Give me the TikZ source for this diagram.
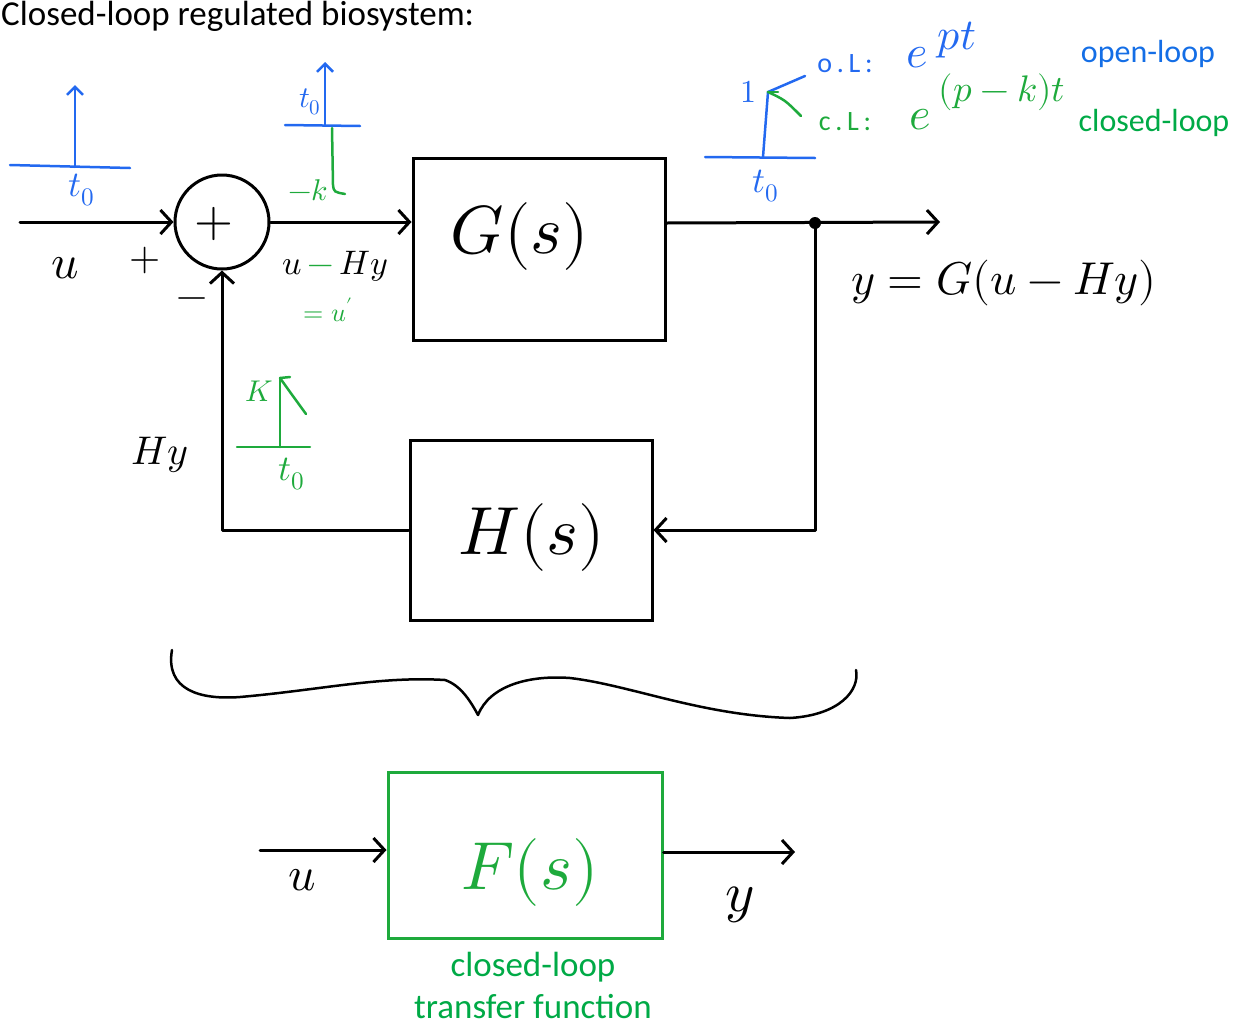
\documentclass[tikz,border=0pt]{standalone}
\usepackage{fontspec}
\usepackage{unicode-math}
\setmainfont{Carlito}
\setmathfont{Latin Modern Math}
\usetikzlibrary{arrows.meta,calc}
\definecolor{inkblue}{RGB}{35,105,240}
\definecolor{inkgreen}{RGB}{30,170,60}
\definecolor{txtblue}{RGB}{20,110,230}
\definecolor{txtgreen}{RGB}{0,170,70}
\tikzset{
  wire/.style={line width=3pt,line cap=round,line join=round},
  barb/.style={wire,-{Straight Barb[length=11pt,width=24pt,line width=3pt]}},
  blk/.style={draw,line width=3pt,inner sep=0pt},
  bline/.style={inkblue,line width=2.5pt,line cap=round},
  gline/.style={inkgreen,line width=2.5pt,line cap=round},
  bbarb/.style={bline,-{Straight Barb[length=8pt,width=16pt,line width=2.5pt]}},
  hw/.style={inner sep=0pt,font=\fontsize{40}{44}\selectfont},
  hwb/.style={hw,text=inkblue,font=\fontsize{32}{36}\selectfont},
  hwg/.style={hw,text=inkgreen,font=\fontsize{32}{36}\selectfont},
  print/.style={inner sep=0pt,font=\fontsize{32}{36}\selectfont},
}
\begin{document}
\begin{tikzpicture}[x=1pt,y=-1pt]
\useasboundingbox (0,0) rectangle (1238,1028);
% title
\node[print,anchor=base west,font=\fontsize{35}{38}\selectfont] (title) at (1,25) {Closed-loop regulated biosystem:};

% blocks
\node[blk,minimum width=252pt,minimum height=182pt] (G) at (539,249) {};
\node[hw,font=\fontsize{68}{74}\selectfont] (Gl) at (520,236) {$G(s)$};
\node[blk,minimum width=242pt,minimum height=180pt] (H) at (531,530) {};
\node[hw,font=\fontsize{68}{76}\selectfont] (Hl) at (532,537) {$H(s)$};
\node[circle,draw,line width=3pt,minimum size=94pt,inner sep=0pt] (sum) at (222,222) {};
\node[hw,font=\fontsize{50}{54}\selectfont] (plusin) at (214,224) {$+$};

% input
\coordinate (in) at (20,222);
\draw[barb] (in) -- (sum.west);
\node[hw,font=\fontsize{48}{52}\selectfont] (ulab) at (65,268) {$u$};
\node[hw] (plus) at (145,260) {$+$};
\node[hw] (minus) at (192,303) {$-$};

% forward
\draw[barb] (sum.east) -- (sum.east -| G.west);
\node[hw,font=\fontsize{34}{40}\selectfont,anchor=base west] (err) at (282,274) {$u\,{\color{inkgreen}-}\,Hy$};
\node[hwg,font=\fontsize{26}{30}\selectfont] (uprime) at (328,310) {$=u'$};

% output
\coordinate (out) at (940,222);
\coordinate (dot) at (815,223);
\draw[barb] (G.east |- dot) -- (out);
\fill (dot) circle (6pt);
\node[hw,font=\fontsize{46}{52}\selectfont] (yeq) at (1004,283) {$y=G(u-Hy)$};

% feedback
\draw[barb] (dot) |- (H.east);
\draw[barb] (H.west) -| (sum.south);
\node[hw] (Hy) at (160,455) {$Hy$};

% blue step at input
\coordinate (s1a) at (10,165);
\coordinate (s1b) at (130,168);
\coordinate (s1c) at (75,167);
\coordinate (s1d) at (75,85);
\draw[bline] (s1a) -- (s1b);
\draw[bbarb] (s1c) -- (s1d);
\node[hwb,font=\fontsize{36}{40}\selectfont] (t1) at (82,190) {$t_0$};

% blue step + green response near error
\coordinate (s2a) at (285,125);
\coordinate (s2b) at (360,126);
\coordinate (s2c) at (325,125);
\coordinate (s2d) at (325,62);
\draw[bline] (s2a) -- (s2b);
\draw[bbarb] (s2c) -- (s2d);
\node[hwb,font=\fontsize{30}{32}\selectfont] (t2) at (310,102) {$t_0$};
\coordinate (g2a) at (332,128);
\coordinate (g2b) at (345,194);
\draw[gline] (g2a) -- (333,185) .. controls (334,192) .. (g2b);
\node[hwg,font=\fontsize{30}{32}\selectfont] (mk) at (308,190) {$-k$};

% green step near feedback
\coordinate (s3a) at (237,447);
\coordinate (s3b) at (310,447);
\coordinate (s3c) at (280,447);
\coordinate (s3d) at (280,378);
\coordinate (s3e) at (306,414);
\draw[gline] (s3a) -- (s3b);
\draw[gline] (s3c) -- (s3d);
\draw[gline] (s3d) -- (290,377);
\draw[gline] (s3d) .. controls (290,392) .. (s3e);
\node[hwg,font=\fontsize{30}{32}\selectfont] (K) at (259,391) {$K$};
\node[hwg,font=\fontsize{36}{40}\selectfont] (t3) at (292,474) {$t_0$};

% top-right responses
\coordinate (s4a) at (705,157);
\coordinate (s4b) at (815,158);
\coordinate (s4c) at (763,157);
\coordinate (s4d) at (768,92);
\coordinate (s4e) at (805,76);
\coordinate (s4f) at (801,116);
\draw[bline] (s4a) -- (s4b);
\draw[bline] (s4c) -- (s4d) -- (s4e);
\draw[gline] (s4d) .. controls (785,100) .. (s4f);
\draw[gline] (s4d) -- (778,92);
\node[hwb] (one) at (748,92) {$1$};
\node[hwb,font=\fontsize{36}{40}\selectfont] (t4) at (766,186) {$t_0$};
\node[hwb,font=\fontsize{28}{30}\selectfont] (ol) at (845,64) {o\,.\,L\,:};
\node[hwb,font=\fontsize{46}{48}\selectfont] (e1) at (917,58) {$e$};
\node[hwb,font=\fontsize{44}{48}\selectfont] (pt) at (957,40) {$pt$};
\node[hwg,font=\fontsize{28}{30}\selectfont] (cl) at (845,122) {c\,.\,L\,:};
\node[hwg,font=\fontsize{46}{48}\selectfont] (e2) at (920,120) {$e$};
\node[hwg,font=\fontsize{37}{40}\selectfont] (pk) at (1002,92) {$(p-k)t$};
\node[print,text=txtblue] (olt) at (1148,54) {open-loop};
\node[print,text=txtgreen] (clt) at (1154,123) {closed-loop};

% brace
\coordinate (br1) at (172,650);
\coordinate (brt) at (478,715);
\coordinate (br2) at (856,670);
\draw[wire,line width=2.5pt] (br1) .. controls (165,690) and (200,700) .. (240,697)
  .. controls (320,690) and (380,676) .. (445,680)
  .. controls (460,685) and (470,700) .. (brt)
  .. controls (490,685) and (530,675) .. (570,678)
  .. controls (630,685) and (700,715) .. (790,718)
  .. controls (840,715) and (860,690) .. (br2);

% closed-loop box
\node[draw=inkgreen,line width=3pt,minimum width=274pt,minimum height=166pt,inner sep=0pt] (F) at (525,855) {};
\node[hw,text=inkgreen,font=\fontsize{68}{74}\selectfont] (Fl) at (530,872) {$F(s)$};
\coordinate (fin) at (260,850);
\coordinate (fout) at (795,852);
\draw[barb] (fin) -- (fin -| F.west);
\draw[barb] (fout -| F.east) -- (fout);
\node[hw,font=\fontsize{48}{52}\selectfont] (u2) at (302,880) {$u$};
\node[hw,font=\fontsize{56}{60}\selectfont] (y2) at (740,905) {$y$};
\node[print,text=txtgreen,align=center,font=\fontsize{35}{42}\selectfont] (cltf) at (533,985) {closed-loop\\transfer function};
\end{tikzpicture}
\end{document}
